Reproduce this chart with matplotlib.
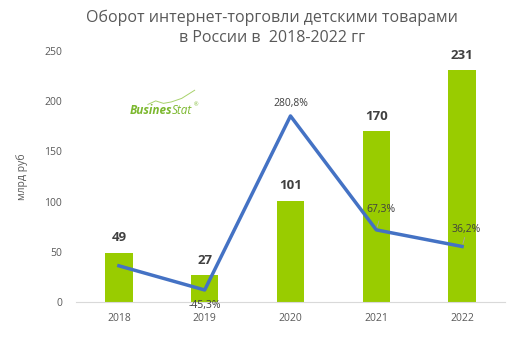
import matplotlib.pyplot as plt

years = ['2018', '2019', '2020', '2021', '2022']
turnover = [49, 27, 101, 170, 231]
growth = [0.0, -45.3, 280.8, 67.3, 36.2]
growth_labels = ['', '-45,3%', '280,8%', '67,3%', '36,2%']

plt.rcParams['font.family'] = ['Open Sans', 'DejaVu Sans']

fig = plt.figure(figsize=(5.19, 3.54), dpi=100)
ax = fig.add_axes([0.1464, 0.1469, 0.8266, 0.7091])
x = list(range(len(years)))

ax.bar(x, turnover, width=0.32, color='#99CC00', zorder=2)
for xi, v in zip(x, turnover):
    ax.annotate(str(v), (xi, v), xytext=(0, 6), textcoords='offset points',
                ha='center', va='bottom', fontsize=9.5, fontweight='bold', color='#404040')

ax.set_xlim(-0.5, 4.5)
ax.set_ylim(0, 250)
ax.set_yticks([0, 50, 100, 150, 200, 250])
ax.set_xticks(x)
ax.set_xticklabels(years)
ax.tick_params(length=0, labelsize=7.5, colors='#595959', pad=8)
ax.tick_params(axis='y', pad=10)
for s in ['top', 'right', 'left']:
    ax.spines[s].set_visible(False)
ax.spines['bottom'].set_color('#d9d9d9')
ax.set_ylabel('млрд руб', fontsize=7.5, color='#595959', labelpad=12)

ax2 = ax.twinx()
ax2.set_ylim(-67.8, 402.5)
ax2.plot(x, growth, color='#4472C4', linewidth=2.5, zorder=3)
ax2.axis('off')

offsets = [(0, 0), (0, -11), (0, 9), (3, 15), (3, 12)]
for xi, g, lab, off in zip(x, growth, growth_labels, offsets):
    if not lab:
        continue
    ax2.annotate(lab, (xi, g), xytext=off, textcoords='offset points',
                 ha='center', va='center', fontsize=7.5, color='#404040')
for xi in [3, 4]:
    ax2.annotate('', (xi, growth[xi]), xytext=(xi + 0.04, growth[xi] + 22),
                 arrowprops=dict(arrowstyle='-', color='#a6a6a6', lw=0.6))

fig.text(0.524, 0.922, 'Оборот интернет-торговли детскими товарами\nв России в  2018-2022 гг',
         ha='center', va='center', fontsize=11.5, color='#595959', linespacing=1.3)

# logo
t1 = fig.text(0.25, 0.688, 'Busines', ha='left', va='center', fontsize=8.5,
              fontstyle='italic', fontweight='bold', color='#7cb82f')
fig.canvas.draw()
bb = t1.get_window_extent().transformed(fig.transFigure.inverted())
t2 = fig.text(bb.x1, 0.688, 'Stat', ha='left', va='center', fontsize=8.5,
              fontstyle='italic', color='#7cb82f')
fig.canvas.draw()
bb2 = t2.get_window_extent().transformed(fig.transFigure.inverted())
fig.text(bb2.x1 + 0.002, 0.705, '®', ha='left', va='center', fontsize=4, color='#7cb82f')
fig.add_artist(plt.Line2D([0.285, 0.3, 0.315, 0.33, 0.35, 0.375],
                          [0.705, 0.715, 0.708, 0.712, 0.722, 0.745],
                          color='#a8d26b', linewidth=0.7))

fig.savefig('out.png', dpi=100)
